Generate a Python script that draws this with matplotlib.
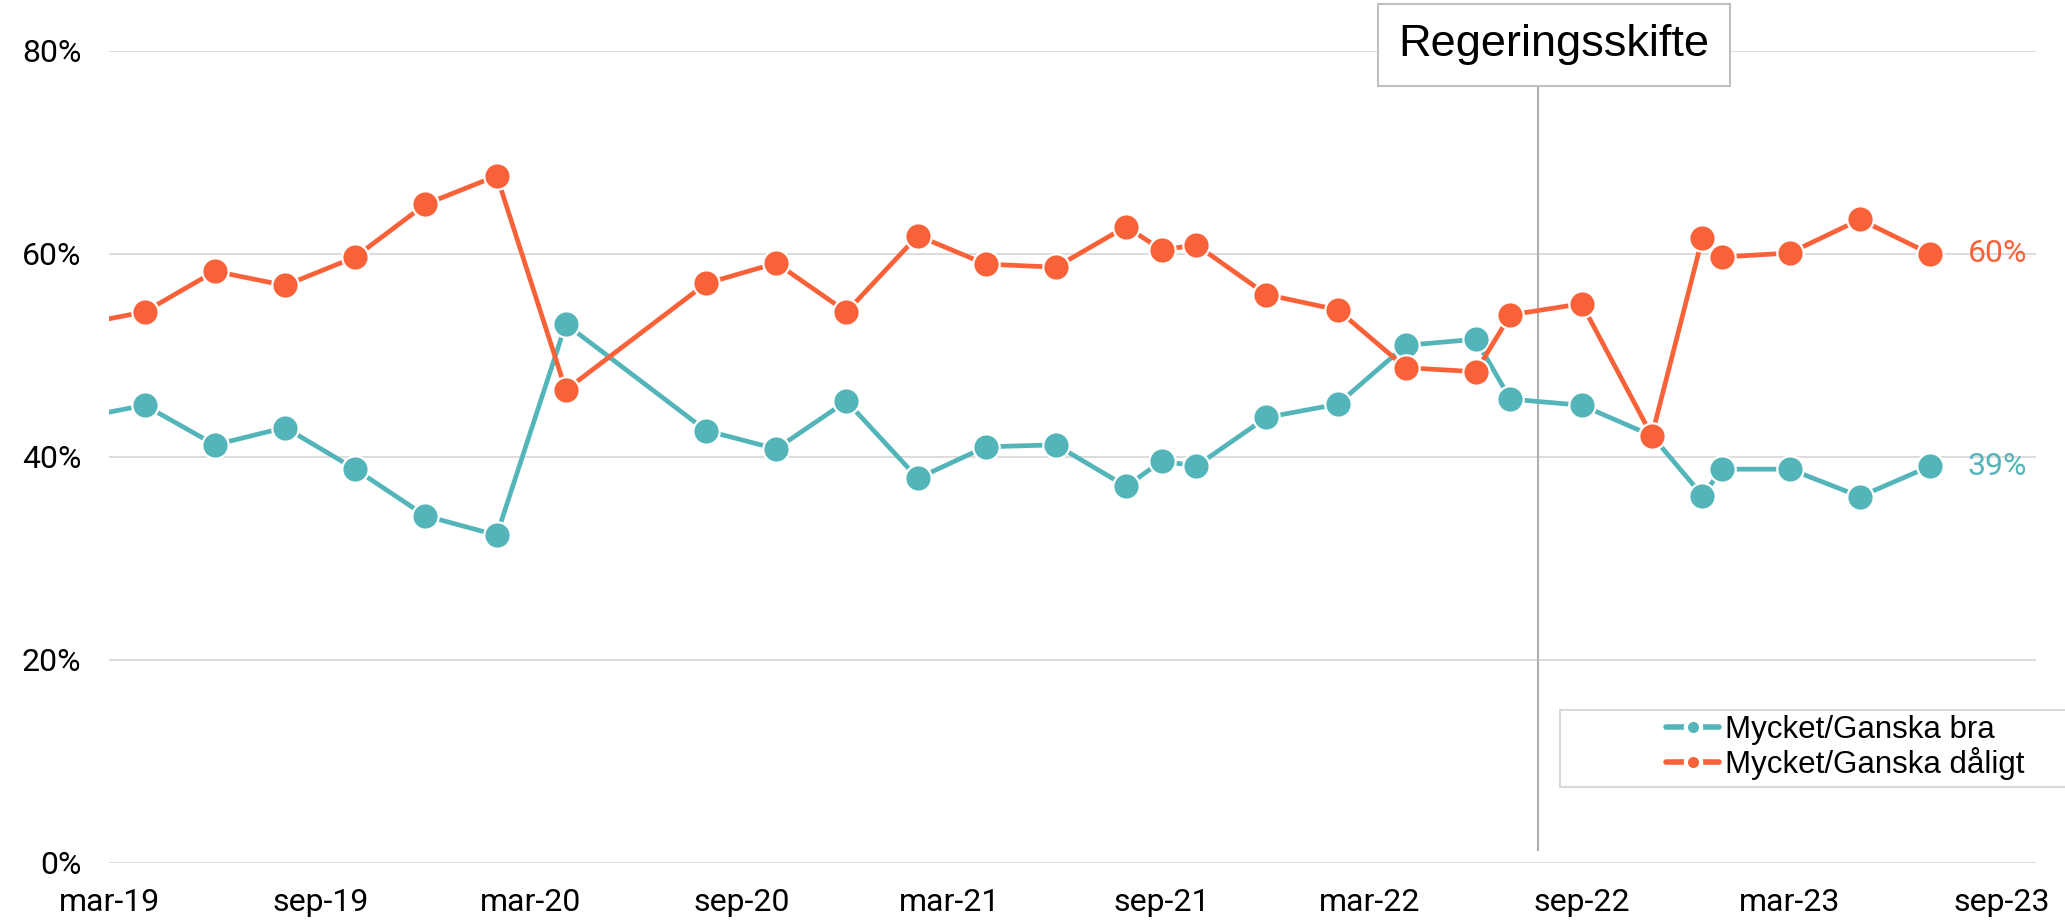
import numpy as np
import matplotlib
matplotlib.use("Agg")
from matplotlib import pyplot as plt
import matplotlib.dates as mdates
from matplotlib.patches import Rectangle
from matplotlib.lines import Line2D

# data (percent)
dates = np.array(['2019-02-01', '2019-04-01', '2019-06-01', '2019-08-01', '2019-10-01', '2019-12-01',
                  '2020-02-01', '2020-04-01', '2020-08-01', '2020-10-01', '2020-12-01', '2021-02-01',
                  '2021-04-01', '2021-06-01', '2021-08-01', '2021-09-01', '2021-10-01', '2021-12-01',
                  '2022-02-01', '2022-04-01', '2022-06-01', '2022-07-01', '2022-09-01', '2022-11-01',
                  '2022-12-15', '2023-01-01', '2023-03-01', '2023-05-01', '2023-07-01'], dtype='datetime64[D]')
bra = [43.8, 45.1, 41.2, 42.9, 38.8, 34.2, 32.3, 53.1, 42.6, 40.8, 45.5, 37.9, 41.0, 41.2, 37.1,
       39.6, 39.1, 43.9, 45.2, 51.0, 51.6, 45.7, 45.1, 42.1, 36.2, 38.8, 38.8, 36.1, 39.1]
daligt = [53.0, 54.3, 58.3, 56.9, 59.7, 64.9, 67.7, 46.6, 57.1, 59.1, 54.3, 61.8, 59.0, 58.7, 62.7,
          60.4, 60.9, 56.0, 54.5, 48.8, 48.4, 54.0, 55.1, 42.1, 61.6, 59.7, 60.1, 63.4, 60.0]
labels = ['Mycket/Ganska bra', 'Mycket/Ganska dåligt']
shift_date = np.datetime64('2022-07-25')
shift_label = 'Regeringsskifte'

teal = '#53B5B9'
red = '#F96239'
thin = ['Roboto', 'DejaVu Sans']

plt.rcParams['font.family'] = ['Liberation Sans', 'DejaVu Sans']

fig = plt.figure(figsize=(20.65, 9.22), dpi=100)
ax = fig.add_axes([0.0528, 0.064, 0.9332, 0.8807])

for vals, col in [(bra, teal), (daligt, red)]:
    ax.plot(dates, vals, color=col, lw=3.4, marker='o', ms=19, mfc=col, mec='white', mew=1.6,
            solid_capstyle='butt', clip_on=True)

ax.set_ylim(0, 80)
ax.set_xlim(np.datetime64('2019-03-01'), np.datetime64('2023-10-01'))
ax.set_yticks([0, 20, 40, 60, 80])
ax.yaxis.set_major_formatter(matplotlib.ticker.FuncFormatter(lambda v, p: '%d%%' % v))
ax.xaxis.set_major_locator(mdates.MonthLocator(bymonth=[3, 9]))
ax.xaxis.set_major_formatter(matplotlib.ticker.FuncFormatter(
    lambda v, p: mdates.num2date(v).strftime('%b-%y').lower()))
ax.tick_params(axis='both', length=0, labelsize=23, colors='#000000')
ax.tick_params(axis='x', pad=18)
ax.tick_params(axis='y', pad=20)
for lab in ax.get_xticklabels() + ax.get_yticklabels():
    lab.set_family(thin)
    lab.set_weight('normal')
ax.grid(axis='y', color='#D9D9D9', lw=1.3)
ax.set_axisbelow(True)
for s in ax.spines.values():
    s.set_visible(False)

# end labels
ax.annotate('60%', (dates[-1], daligt[-1]), xytext=(27, 0), textcoords='offset points',
            va='center', ha='left', color=red, fontsize=23, family=thin, weight='normal')
ax.annotate('39%', (dates[-1], bra[-1]), xytext=(27, 0), textcoords='offset points',
            va='center', ha='left', color=teal, fontsize=23, family=thin, weight='normal')

# government change marker
ax.plot([shift_date, shift_date], [1.3, 77], color='#B0B0B0', lw=1.5, clip_on=False, zorder=1)
ax.text(shift_date + np.timedelta64(14, 'D'), 80.6, shift_label, fontsize=32.5, ha='center', va='center',
        color='#000000', clip_on=False,
        bbox=dict(boxstyle='square,pad=0.45', fc='white', ec='#BFBFBF', lw=1.5))

# legend in a wide box
fig.patches.append(Rectangle((0.7554, 0.1464), 0.26, 0.0835, transform=fig.transFigure,
                             fc='white', ec='#D9D9D9', lw=1.5))
handles = [Line2D([], [], color=teal, lw=4, marker='o', ms=11, mec='white', mew=3,
                  solid_capstyle='round'),
           Line2D([], [], color=red, lw=4, marker='o', ms=11, mec='white', mew=3,
                  solid_capstyle='round')]
fig.legend(handles, labels, loc='upper left', bbox_to_anchor=(0.8068, 0.2245), frameon=False,
           fontsize=22.5, handlelength=1.7, handletextpad=0.2, borderpad=0, borderaxespad=0,
           labelspacing=0.05)

fig.savefig('out.png', dpi=100)
